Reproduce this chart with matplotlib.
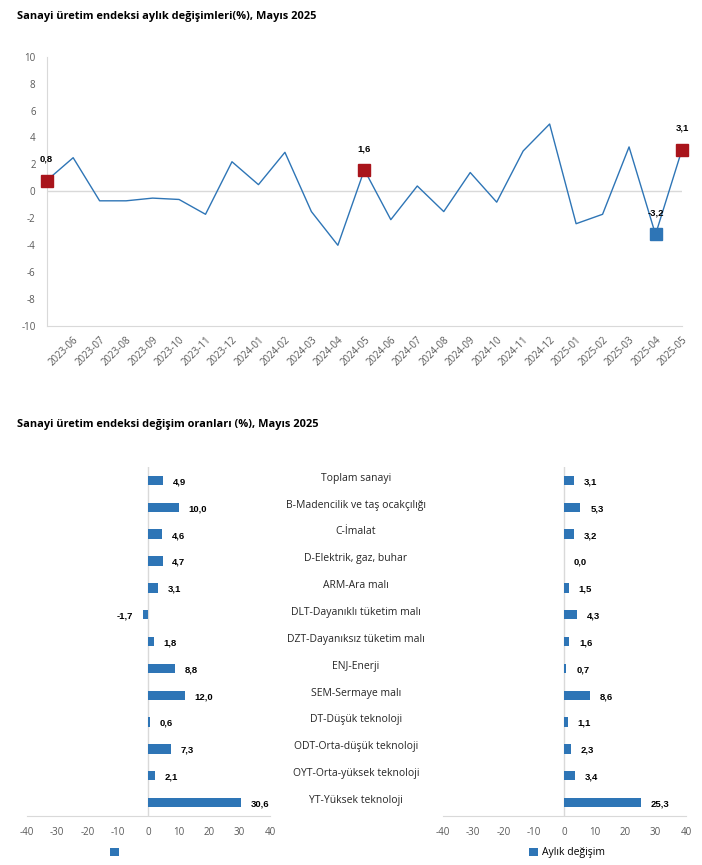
import matplotlib.pyplot as plt
from matplotlib.transforms import blended_transform_factory

plt.rcParams['font.family'] = ['Open Sans', 'DejaVu Sans']
plt.rcParams['axes.unicode_minus'] = False

# --- aylık değişim serisi (2023-05 .. 2025-05)
months = ['2023-05', '2023-06', '2023-07', '2023-08', '2023-09', '2023-10', '2023-11',
          '2023-12', '2024-01', '2024-02', '2024-03', '2024-04', '2024-05', '2024-06',
          '2024-07', '2024-08', '2024-09', '2024-10', '2024-11', '2024-12', '2025-01',
          '2025-02', '2025-03', '2025-04', '2025-05']
monthly = [0.8, 2.5, -0.7, -0.7, -0.5, -0.6, -1.7, 2.2, 0.5, 2.9, -1.5, -4.0, 1.6,
           -2.1, 0.4, -1.5, 1.4, -0.8, 3.0, 5.0, -2.4, -1.7, 3.3, -3.2, 3.1]
red_months = ['2023-05', '2024-05', '2025-05']
blue_months = ['2025-04']

# --- değişim oranları
categories = ['Toplam sanayi', 'B-Madencilik ve taş ocakçılığı', 'C-İmalat',
              'D-Elektrik, gaz, buhar', 'ARM-Ara malı', 'DLT-Dayanıklı tüketim malı',
              'DZT-Dayanıksız tüketim malı', 'ENJ-Enerji', 'SEM-Sermaye malı',
              'DT-Düşük teknoloji', 'ODT-Orta-düşük teknoloji',
              'OYT-Orta-yüksek teknoloji', 'YT-Yüksek teknoloji']
annual = [4.9, 10.0, 4.6, 4.7, 3.1, -1.7, 1.8, 8.8, 12.0, 0.6, 7.3, 2.1, 30.6]
aylik = [3.1, 5.3, 3.2, 0.0, 1.5, 4.3, 1.6, 0.7, 8.6, 1.1, 2.3, 3.4, 25.3]

blue = '#2E75B6'
red = '#A9141B'
grid_c = '#D9D9D9'
tick_c = '#595959'

fig = plt.figure(figsize=(7.02, 8.65), dpi=100)

# ---------------- line chart
ax = fig.add_axes([0.0665, 0.623, 0.905, 0.3115])
x = list(range(len(months)))
ax.plot(x, monthly, color=blue, lw=1)
for i, m in enumerate(months):
    if m in red_months or m in blue_months:
        c = red if m in red_months else blue
        ax.plot(i, monthly[i], marker='s', ms=8, color=c, mec=c, zorder=3, clip_on=False)
        ax.annotate(f'{monthly[i]:.1f}'.replace('.', ','), (i, monthly[i]),
                    xytext=(0, 12), textcoords='offset points', ha='center',
                    va='bottom', fontsize=6.8, fontweight='bold',
                    family=['Liberation Sans'])
ax.set_xlim(0, len(months) - 1)
ax.set_ylim(-10, 10)
ax.set_yticks(range(-10, 11, 2))
ax.set_xticks(x[1:])
ax.set_xticklabels(months[1:], rotation=45, ha='right', rotation_mode='anchor')
ax.axhline(0, color=grid_c, lw=1, zorder=0)
for s in ['top', 'right']:
    ax.spines[s].set_visible(False)
for s in ['left', 'bottom']:
    ax.spines[s].set_color(grid_c)
ax.tick_params(length=0, labelsize=7, colors=tick_c)
ax.tick_params(axis='y', pad=8)
ax.tick_params(axis='x', pad=6)
fig.text(0.024, 0.981, 'Sanayi üretim endeksi aylık değişimleri(%), Mayıs 2025',
         fontsize=7.9, fontweight='bold', va='center')

# ---------------- bar charts
fig.text(0.024, 0.509, 'Sanayi üretim endeksi değişim oranları (%), Mayıs 2025',
         fontsize=7.9, fontweight='bold', va='center')

axl = fig.add_axes([0.038, 0.0566, 0.3466, 0.4035])
axr = fig.add_axes([0.6306, 0.0566, 0.3466, 0.4035])
y = list(range(len(categories)))
handles = []
for a, vals in [(axl, annual), (axr, aylik)]:
    bars = a.barh(y, vals, height=0.35, color=blue)
    handles.append(bars)
    for yi, v in zip(y, vals):
        a.annotate(f'{v:.1f}'.replace('.', ','), (v, yi), xytext=(7 if v >= 0 else -7, -1),
                   textcoords='offset points', ha='left' if v >= 0 else 'right',
                   va='center', fontsize=6.8, fontweight='bold',
                   family=['Liberation Sans'])
    a.set_xlim(-40, 40)
    a.set_ylim(len(categories) - 0.5, -0.5)
    a.set_xticks(range(-40, 41, 10))
    a.set_yticks([])
    a.axvline(0, color=grid_c, lw=1, zorder=0)
    for s in ['top', 'right', 'left']:
        a.spines[s].set_visible(False)
    a.spines['bottom'].set_color(grid_c)
    a.tick_params(length=0, labelsize=7, colors=tick_c, pad=8)

tr = blended_transform_factory(fig.transFigure, axl.transData)
for yi, c in zip(y, categories):
    axl.text(0.507, yi - 0.08, c, transform=tr, ha='center', va='center',
             fontsize=7.5, color='#262626', clip_on=False)

fig.legend([handles[0]], [''], loc='center', bbox_to_anchor=(0.165, 0.0139),
           frameon=False, fontsize=7.5, handlelength=0.9, handleheight=0.9,
           handletextpad=0.3)
fig.legend([handles[1]], ['Aylık değişim'], loc='center',
           bbox_to_anchor=(0.808, 0.0139), frameon=False, fontsize=7.5,
           handlelength=0.9, handleheight=0.9, handletextpad=0.4)

fig.savefig('out.png', dpi=100)
